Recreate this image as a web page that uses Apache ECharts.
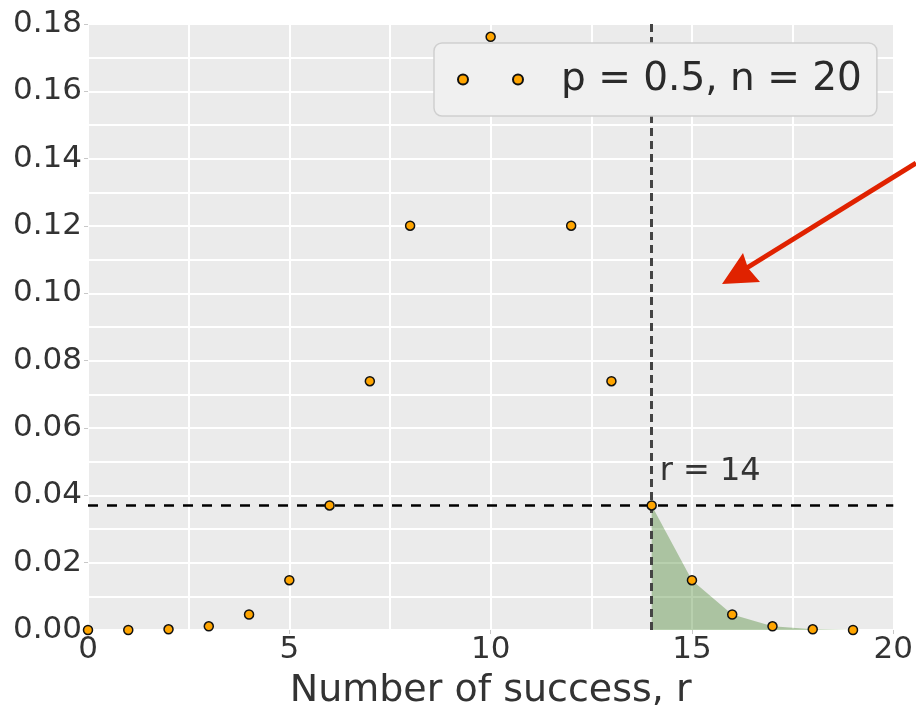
<!DOCTYPE html>
<html>
<head>
<meta charset="utf-8">
<script src="https://cdn.jsdelivr.net/npm/echarts@6/dist/echarts.min.js"></script>
<style>html,body{margin:0;padding:0;background:#fff}#c{width:916px;height:715px}</style>
</head>
<body>
<div id="c"></div>
<script>
// Data (binomial pmf, p = 0.5, n = 20)
var rValues = [0,1,2,3,4,5,6,7,8,9,10,11,12,13,14,15,16,17,18,19];
var pmfValues = [0.0000,0.0000,0.0002,0.0011,0.0046,0.0148,0.0370,0.0739,0.1201,0.1602,
                 0.1762,0.1602,0.1201,0.0739,0.0370,0.0148,0.0046,0.0011,0.0002,0.0000];
var seriesName = 'p = 0.5, n = 20';
var rThreshold = 14;
var xTicks = [0,5,10,15,20];
var yTicks = [0.00,0.02,0.04,0.06,0.08,0.10,0.12,0.14,0.16,0.18];
var xTitle = 'Number of success, r';
var annotationText = 'r = 14';

var points = rValues.map(function(r,i){return [r,pmfValues[i]];});
var tail = points.filter(function(p){return p[0] >= rThreshold;});
var thresholdP = pmfValues[rValues.indexOf(rThreshold)];

var FONT = 'DejaVu Sans';
var chart = echarts.init(document.getElementById('c'));
chart.setOption({
  animation:false,
  backgroundColor:'#ffffff',
  grid:{left:88,right:22,top:24,bottom:85,show:true,backgroundColor:'#ebebeb',borderWidth:0},
  xAxis:{
    type:'value',min:xTicks[0],max:xTicks[xTicks.length-1],interval:5,
    name:xTitle,nameLocation:'middle',nameGap:42,
    nameTextStyle:{fontFamily:FONT,fontSize:38,color:'#333'},
    axisLine:{show:false},
    axisTick:{show:true,length:4,lineStyle:{color:'#c8c8c8'}},
    axisLabel:{fontFamily:FONT,fontSize:31,color:'#333',margin:4},
    splitLine:{show:true,lineStyle:{color:'#ffffff',width:2}},
    minorTick:{show:false,splitNumber:2},
    minorSplitLine:{show:true,lineStyle:{color:'#ffffff',width:2}}
  },
  yAxis:{
    type:'value',min:0,max:yTicks[yTicks.length-1],interval:0.02,
    axisLine:{show:false},
    axisTick:{show:true,length:4,lineStyle:{color:'#c8c8c8'}},
    axisLabel:{fontFamily:FONT,fontSize:31,color:'#333',margin:6,
      formatter:function(v){return v.toFixed(2);}},
    splitLine:{show:true,lineStyle:{color:'#ffffff',width:2}},
    minorTick:{show:false,splitNumber:2},
    minorSplitLine:{show:true,lineStyle:{color:'#ffffff',width:2}}
  },
  legend:{
    show:true,
    data:[{name:seriesName,icon:'path://M0,5a5,5 0 1,0 10,0a5,5 0 1,0 -10,0M55,5a5,5 0 1,0 10,0a5,5 0 1,0 -10,0'}],
    left:434,top:43,
    itemWidth:65,itemHeight:10,
    padding:[17,15,17,23],
    backgroundColor:'#f0f0f0',borderColor:'#cfcfcf',borderWidth:1.5,borderRadius:8,
    textStyle:{fontFamily:FONT,fontSize:39,color:'#2a2a2a',padding:[0,0,0,33]},
    z:20
  },
  series:[
    {
      type:'line',name:'tail',data:tail,symbol:'none',silent:true,
      lineStyle:{width:0,color:'rgba(55,121,25,0.5)'},
      areaStyle:{color:'rgba(55,121,25,0.5)',origin:'start'},
      z:1
    },
    {
      type:'scatter',name:seriesName,data:points,symbol:'circle',symbolSize:9,
      itemStyle:{color:'#ffa500',borderColor:'#111',borderWidth:1.5,opacity:1},
      z:5,
      markLine:{
        silent:true,symbol:'none',
        label:{show:false},
        data:[
          [{coord:[rThreshold,0],lineStyle:{color:'#444',width:3,type:[8,5]}},
           {coord:[rThreshold,yTicks[yTicks.length-1]]}],
          [{coord:[xTicks[0],thresholdP],lineStyle:{color:'#000',width:2.5,type:[10,9]}},
           {coord:[xTicks[xTicks.length-1],thresholdP]}]
        ]
      },
      markPoint:{
        silent:true,symbol:'circle',symbolSize:0,
        data:[{coord:[rThreshold,thresholdP],
          label:{show:true,formatter:annotationText,position:'inside',align:'left',verticalAlign:'bottom',
            offset:[8,-18],fontFamily:FONT,fontSize:32,color:'#333'}}]
      }
    }
  ],
  graphic:[
    {type:'line',shape:{x1:916,y1:163,x2:737,y2:274},style:{stroke:'#e02200',lineWidth:5},z:30},
    {type:'polygon',shape:{points:[[722,284],[743,253],[748,268],[760,282]]},style:{fill:'#e02200'},z:30}
  ]
});
</script>
</body>
</html>
